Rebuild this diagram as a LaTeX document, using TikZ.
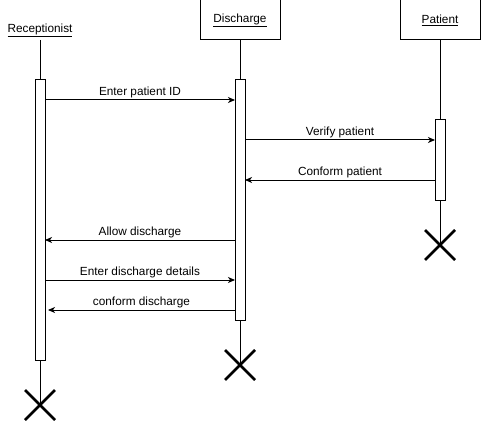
\documentclass[tikz,border=0pt]{standalone}
\usepackage{fontspec}
\setmainfont{Liberation Sans}
\usetikzlibrary{arrows.meta}
\begin{document}
\begin{tikzpicture}[x=1pt,y=-1pt,line width=1pt,
  every node/.style={font=\fontsize{11.8}{14}\selectfont},
  actorbox/.style={draw,minimum width=80pt,minimum height=40pt,inner sep=0pt},
  actbar/.style={draw,fill=white,minimum width=10pt,inner sep=0pt},
  msg/.style={-{Stealth[length=7pt,width=6pt,inset=2pt]}},
  msglabel/.style={inner sep=1.5pt},
  killx/.style={line width=2.5pt}]
\useasboundingbox (0,0) rectangle (481,422);
% heads
\node (rec) at (40,30) {\underline{Receptionist}};
\node[actorbox] (dis) at (240,20) {\underline{Discharge}};
\node[actorbox] (pat) at (440,20) {\underline{Patient}};
% end coordinates
\coordinate (recend) at (40,405);
\coordinate (disend) at (240,365);
\coordinate (patend) at (440,245);
% lifelines
\draw (40,40) -- (recend);
\draw (dis.south) -- (disend);
\draw (pat.south) -- (patend);
% activation bars
\node[actbar,minimum height=280pt] (recact) at (40,220) {};
\node[actbar,minimum height=240pt] (disact) at (240,200) {};
\node[actbar,minimum height=80pt] (patact) at (440,160) {};
% destruction marks
\foreach \c in {recend,disend,patend}{
  \draw[killx] ([shift={(-15,-15)}]\c) -- ([shift={(15,15)}]\c);
  \draw[killx] ([shift={(-15,15)}]\c) -- ([shift={(15,-15)}]\c);
}
% messages
\coordinate (m1a) at (45,100); \coordinate (m1b) at (235,100);
\draw[msg] (m1a) -- node[msglabel,above] {Enter patient ID} (m1b);
\coordinate (m2a) at (245,140); \coordinate (m2b) at (435,140);
\draw[msg] (m2a) -- node[msglabel,above] {Verify patient} (m2b);
\coordinate (m3a) at (435,180); \coordinate (m3b) at (245,180);
\draw[msg] (m3a) -- node[msglabel,above] {Conform patient} (m3b);
\coordinate (m4a) at (235,240); \coordinate (m4b) at (45,240);
\draw[msg] (m4a) -- node[msglabel,above] {Allow discharge} (m4b);
\coordinate (m5a) at (45,280); \coordinate (m5b) at (235,280);
\draw[msg] (m5a) -- node[msglabel,above] {Enter discharge details} (m5b);
\coordinate (m6a) at (235,310); \coordinate (m6b) at (48,310);
\draw[msg] (m6a) -- node[msglabel,above] {conform discharge} (m6b);
\end{tikzpicture}
\end{document}
